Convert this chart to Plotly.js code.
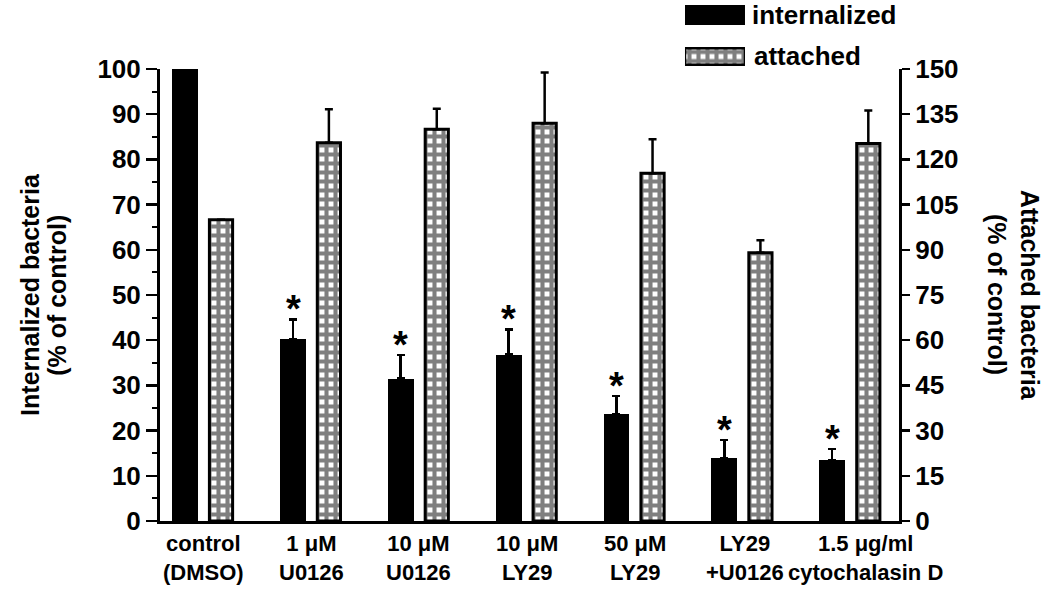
<!DOCTYPE html>
<html>
<head>
<meta charset="utf-8">
<script src="https://cdn.plot.ly/plotly-3.0.1.min.js"></script>
<style>
  html, body { margin: 0; padding: 0; background: #fff; }
  #chart { width: 1050px; height: 598px; }
</style>
</head>
<body>
<div id="chart"></div>
<script>
// Treatment groups (x axis)
const categories = [
  'control<br>(DMSO)',
  '1 μM<br>U0126',
  '10 μM<br>U0126',
  '10 μM<br>LY29',
  '50 μM<br>LY29',
  'LY29<br>+U0126',
  '1.5 μg/ml<br>cytochalasin D'
];

// Internalized bacteria, % of control (left axis)
const internalized    = [100, 40.2, 31.5, 36.8, 23.7, 13.9, 13.5];
const internalizedErr = [0, 4.4, 5.2, 5.6, 3.9, 4.0, 2.4];

// Attached bacteria, % of control (right axis)
const attached    = [100, 125.5, 130.0, 132.0, 115.4, 89.0, 125.3];
const attachedErr = [0, 11.1, 6.8, 16.8, 11.3, 4.2, 10.9];

// Groups marked as significantly different from control
const significant = [false, true, true, true, true, true, true];

// Legend entries
const legendItems = ['internalized', 'attached'];

const FONT = 'Liberation Sans, Arial, Helvetica, sans-serif';

const checkPattern = {
  shape: '+', fgcolor: '#000', bgcolor: '#fff',
  size: 9, solidity: 0.7, fillmode: 'overlay'
};

const traces = [
  {
    type: 'bar', name: legendItems[0],
    x: categories, y: internalized,
    xaxis: 'x', yaxis: 'y',
    width: 0.24, offset: -0.289,
    marker: { color: '#000', line: { width: 0 } },
    error_y: {
      type: 'data', symmetric: false,
      array: internalizedErr, arrayminus: internalizedErr.map(() => 0),
      color: '#000', thickness: 2.5, width: 4
    },
    hoverinfo: 'skip'
  },
  {
    type: 'bar', name: legendItems[1],
    x: categories, y: attached,
    xaxis: 'x', yaxis: 'y2',
    width: 0.215, offset: 0.058,
    marker: { color: '#fff', pattern: checkPattern, line: { color: '#000', width: 3 } },
    error_y: {
      type: 'data', symmetric: false,
      array: attachedErr, arrayminus: attachedErr.map(() => 0),
      color: '#000', thickness: 2.5, width: 4
    },
    hoverinfo: 'skip'
  },
  // Legend swatches, drawn on a small hidden axis pair in the top right
  {
    type: 'bar', orientation: 'h',
    x: [1], y: [1], base: 0, width: 0.48,
    xaxis: 'x3', yaxis: 'y3',
    marker: { color: '#000', line: { width: 0 } },
    hoverinfo: 'skip', showlegend: false
  },
  {
    type: 'bar', orientation: 'h',
    x: [1], y: [0], base: 0, width: 0.4,
    xaxis: 'x3', yaxis: 'y3',
    marker: { color: '#fff', pattern: checkPattern, line: { color: '#000', width: 2.5 } },
    hoverinfo: 'skip', showlegend: false
  }
];

const annotations = [];
const boldFont = (size) => ({ family: FONT, size: size, color: '#000', weight: 'bold' });

// Category labels under the x axis (the long last one sits a little to the right)
categories.forEach((c, i) => {
  annotations.push({
    x: c, y: 0, xref: 'x', yref: 'y',
    xanchor: 'center', yanchor: 'top',
    xshift: i === categories.length - 1 ? 15 : (i === categories.length - 2 ? 2 : 0),
    yshift: -8,
    text: c, showarrow: false, align: 'center',
    font: boldFont(22)
  });
});

// Significance asterisks above the internalized error bars
categories.forEach((c, i) => {
  if (!significant[i]) return;
  annotations.push({
    x: c, y: internalized[i] + internalizedErr[i],
    xref: 'x', yref: 'y',
    xshift: -18, yshift: -13,
    yanchor: 'bottom', xanchor: 'center',
    text: '*', showarrow: false,
    font: boldFont(38)
  });
});

// Legend labels
annotations.push({
  x: 0.798, y: 0.9712, xref: 'paper', yref: 'paper',
  xanchor: 'left', yanchor: 'middle', showarrow: false,
  text: legendItems[0], font: boldFont(26)
});
annotations.push({
  x: 0.801, y: 0.8925, xref: 'paper', yref: 'paper',
  xanchor: 'left', yanchor: 'middle', showarrow: false,
  text: legendItems[1], font: boldFont(26)
});

// Axis titles, one annotation per line
[['Internalized bacteria', -0.1759], ['(% of control)', -0.1394]].forEach(([t, x]) => {
  annotations.push({
    x: x, y: 0.434, xref: 'paper', yref: 'paper',
    xanchor: 'center', yanchor: 'middle', showarrow: false,
    textangle: -90, text: t, font: boldFont(25)
  });
});
[['Attached bacteria', 1.1773], ['(% of control)', 1.1326]].forEach(([t, x]) => {
  annotations.push({
    x: x, y: 0.434, xref: 'paper', yref: 'paper',
    xanchor: 'center', yanchor: 'middle', showarrow: false,
    textangle: 90, text: t, font: boldFont(25)
  });
});

const layout = {
  width: 1050, height: 598,
  margin: { l: 160, r: 151, t: 0, b: 77, pad: 0 },
  paper_bgcolor: '#fff', plot_bgcolor: '#fff',
  showlegend: false,
  font: boldFont(24),
  bargap: 0,
  xaxis: {
    type: 'category', range: [-0.4, 6.45],
    showline: true, linecolor: '#000', linewidth: 3,
    ticks: '', showticklabels: false, showgrid: false, zeroline: false,
    fixedrange: true
  },
  yaxis: {
    domain: [0, 0.8676], range: [0, 100],
    tickmode: 'linear', tick0: 0, dtick: 10,
    ticks: 'outside', ticklen: 11, tickwidth: 2.5, tickcolor: '#000',
    minor: { tickmode: 'linear', tick0: 0, dtick: 5, ticks: 'outside', ticklen: 5, tickwidth: 2, tickcolor: '#000', showgrid: false },
    showline: true, linecolor: '#000', linewidth: 3,
    showgrid: false, zeroline: false,
    tickfont: boldFont(26),
    fixedrange: true
  },
  yaxis2: {
    overlaying: 'y', side: 'right', anchor: 'x',
    range: [0, 150],
    tickmode: 'linear', tick0: 0, dtick: 15,
    ticks: 'outside', ticklen: 8, tickwidth: 2.5, tickcolor: '#000',
    showline: true, linecolor: '#000', linewidth: 3,
    showgrid: false, zeroline: false,
    tickfont: boldFont(26),
    fixedrange: true
  },
  xaxis3: {
    domain: [0.7104, 0.7916], range: [0, 1], anchor: 'y3',
    visible: false, fixedrange: true
  },
  yaxis3: {
    domain: [0.8677, 0.9951], range: [-0.3, 1.3], anchor: 'x3',
    visible: false, fixedrange: true
  },
  annotations: annotations
};

Plotly.newPlot('chart', traces, layout, { staticPlot: true, displayModeBar: false });
</script>
</body>
</html>
